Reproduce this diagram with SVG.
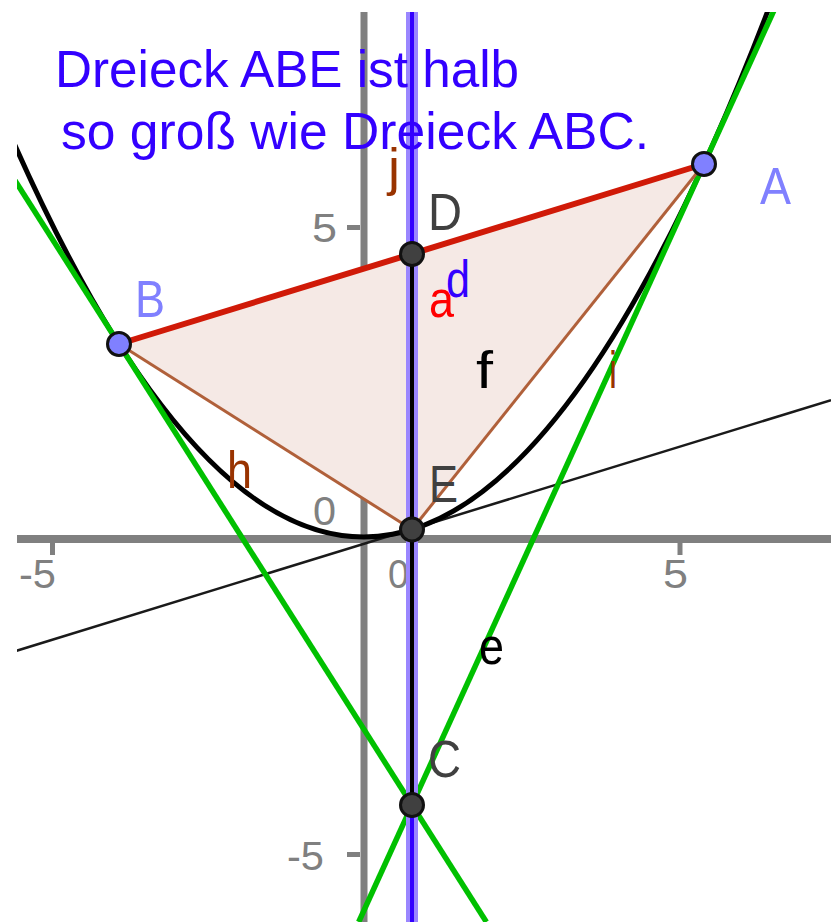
<svg xmlns="http://www.w3.org/2000/svg" width="831" height="922" viewBox="0 0 831 922">
<style>
.ax{stroke:#808080;fill:none}
.axl{font-family:"Liberation Sans",Arial,sans-serif;font-size:40px;fill:#808080}
.lbl{font-family:"Liberation Sans",Arial,sans-serif;font-size:52px}
.ptd{fill:#404040;stroke:#111;stroke-width:3}
.ptb{fill:#8080ff;stroke:#111;stroke-width:3}
.dk{fill:#404040}
.lb{fill:#8080ff}
.br{fill:#993300}
.title{font-family:"Liberation Sans",Arial,sans-serif;font-size:52px;fill:#3300ff}
</style>
<defs>
<clipPath id="plot"><rect x="17" y="12" width="814" height="910"/></clipPath>
</defs>
<rect width="831" height="922" fill="#ffffff"/>
<g clip-path="url(#plot)">
<g id="axes">
<line class="ax" x1="17" y1="539" x2="831" y2="539" stroke-width="8"/>
<line class="ax" x1="364" y1="12" x2="364" y2="922" stroke-width="7"/>
<line class="ax" x1="52.5" y1="543" x2="52.5" y2="555" stroke-width="5"/>
<line class="ax" x1="680" y1="543" x2="680" y2="555" stroke-width="5"/>
<line class="ax" x1="347" y1="227.5" x2="360" y2="227.5" stroke-width="5"/>
<line class="ax" x1="347" y1="854.5" x2="360" y2="854.5" stroke-width="5"/>
<text class="axl" x="19" y="588" textLength="37" lengthAdjust="spacingAndGlyphs">-5</text>
<text class="axl" x="663" y="588" textLength="25" lengthAdjust="spacingAndGlyphs">5</text>
<text class="axl" x="388" y="588" textLength="21" lengthAdjust="spacingAndGlyphs">0</text>
<text class="axl" x="313" y="525" textLength="23" lengthAdjust="spacingAndGlyphs">0</text>
<text class="axl" x="312" y="242" textLength="25" lengthAdjust="spacingAndGlyphs">5</text>
<text class="axl" x="287" y="870" textLength="37" lengthAdjust="spacingAndGlyphs">-5</text>
</g>
<g id="connectors">
<polygon id="poly" points="704,164 119,344 412,529.5" fill="#f5e9e5" stroke="none"/>
<line id="tangentE" x1="0" y1="655.8" x2="831" y2="400.1" stroke="#1a1a1a" stroke-width="2.5"/>
<path id="parabola" d="M10,134 Q392.5,1005.6 775,-7.9" fill="none" stroke="#000" stroke-width="5"/>
<line id="lineE" x1="778.7" y1="0" x2="358.7" y2="922" stroke="#00c000" stroke-width="5.5"/>
<line id="lineI" x1="0" y1="156.8" x2="486.4" y2="922" stroke="#00c000" stroke-width="5.5"/>
<line id="lineJhalo" x1="412" y1="0" x2="412" y2="922" stroke="#9a86ff" stroke-width="12"/>
<line id="lineJ" x1="412" y1="0" x2="412" y2="922" stroke="#3300ff" stroke-width="4"/>
<line id="segD" x1="412" y1="254" x2="412" y2="805" stroke="#000" stroke-width="4"/>
<line id="segH" x1="119" y1="344" x2="412" y2="529.5" stroke="#b0603a" stroke-width="3"/>
<line id="segF" x1="412" y1="529.5" x2="704" y2="164" stroke="#b0603a" stroke-width="3"/>
<line id="segA" x1="119" y1="344" x2="704" y2="164" stroke="#d01a08" stroke-width="6"/>
</g>
<g id="lineLabels">
<text class="lbl" x="388" y="185" fill="#993300" textLength="12" lengthAdjust="spacingAndGlyphs">j</text>
<text class="lbl" x="429" y="317" fill="#ff0000" textLength="25" lengthAdjust="spacingAndGlyphs">a</text>
<text class="lbl" x="446" y="297" fill="#3300ff" textLength="24" lengthAdjust="spacingAndGlyphs">d</text>
<text class="lbl" x="476" y="388" fill="#000" textLength="17" lengthAdjust="spacingAndGlyphs">f</text>
<text class="lbl" x="227" y="488" fill="#993300" textLength="25" lengthAdjust="spacingAndGlyphs">h</text>
<text class="lbl" x="479" y="664" fill="#000" textLength="25" lengthAdjust="spacingAndGlyphs">e</text>
<text class="lbl" x="609" y="388" fill="#993300" textLength="8" lengthAdjust="spacingAndGlyphs">i</text>
</g>
<g id="A"><circle class="ptb" cx="704" cy="164" r="11.5"/><text class="lbl lb" x="760" y="204" textLength="31" lengthAdjust="spacingAndGlyphs">A</text></g>
<g id="B"><circle class="ptb" cx="119" cy="344" r="11.5"/><text class="lbl lb" x="135" y="317" textLength="30" lengthAdjust="spacingAndGlyphs">B</text></g>
<g id="D"><circle class="ptd" cx="412" cy="254" r="11.5"/><text class="lbl dk" x="428" y="230" textLength="34" lengthAdjust="spacingAndGlyphs">D</text></g>
<g id="E"><circle class="ptd" cx="412" cy="529.5" r="11.5"/><text class="lbl dk" x="429" y="502" textLength="29" lengthAdjust="spacingAndGlyphs">E</text></g>
<g id="C"><circle class="ptd" cx="412" cy="805" r="11.5"/><text class="lbl dk" x="428" y="777" textLength="33" lengthAdjust="spacingAndGlyphs">C</text></g>
<g id="title">
<text class="title" x="55" y="87" textLength="464" lengthAdjust="spacingAndGlyphs">Dreieck ABE ist halb</text>
<text class="title" x="61" y="149" textLength="588" lengthAdjust="spacingAndGlyphs">so groß wie Dreieck ABC.</text>
</g>
</g>
</svg>
